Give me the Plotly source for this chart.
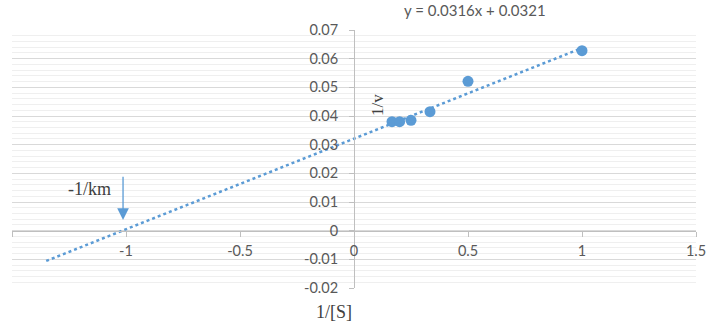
import plotly.graph_objects as go

# Data (Lineweaver-Burk)
inv_s = [1/6, 1/5, 1/4, 1/3, 1/2, 1]
inv_v = [0.0380, 0.0380, 0.0385, 0.0415, 0.0521, 0.0628]
slope = 0.0316
intercept = 0.0321
trend_x = [-1.35, 1.0]
trend_y = [slope * x + intercept for x in trend_x]

x_ticks = [-1.5, -1, -0.5, 0, 0.5, 1, 1.5]
x_tick_labels = ["-1.5", "-1", "-0.5", "0", "0.5", "1", "1.5"]
y_ticks = [-0.02, -0.01, 0, 0.01, 0.02, 0.03, 0.04, 0.05, 0.06, 0.07]
y_tick_labels = ["-0.02", "-0.01", "0", "0.01", "0.02", "0.03", "0.04", "0.05", "0.06", "0.07"]

BLUE = "#5B9BD5"
GRAY = "#595959"

fig = go.Figure()
fig.add_trace(go.Scatter(x=trend_x, y=trend_y, mode="lines",
                         line=dict(color=BLUE, width=2.5, dash="dot"),
                         showlegend=False, hoverinfo="skip"))
fig.add_trace(go.Scatter(x=inv_s, y=inv_v, mode="markers",
                         marker=dict(color=BLUE, size=11),
                         showlegend=False))

fig.update_layout(
    width=708, height=326,
    margin=dict(l=12, r=12, t=30, b=38),
    paper_bgcolor="white", plot_bgcolor="white",
    font=dict(family="Lato, Open Sans, sans-serif", size=14.5, color=GRAY),
    xaxis=dict(range=[-1.5, 1.5], tickvals=x_ticks, ticktext=x_tick_labels,
               showgrid=False, zeroline=False, showline=True,
               linecolor="#BFBFBF", linewidth=1, automargin=False,
               ticks="outside", ticklen=5, tickcolor="#BFBFBF",
               anchor="free", position=2/9, ticklabelstandoff=2),
    yaxis=dict(range=[-0.02, 0.07], tickvals=y_ticks, ticktext=y_tick_labels,
               showgrid=True, gridcolor="#D9D9D9", gridwidth=1, automargin=False,
               zeroline=False, showline=True, linecolor="#BFBFBF", linewidth=1,
               ticks="outside", ticklen=5, tickcolor="#BFBFBF",
               anchor="free", position=0.5, ticklabelstandoff=8,
               minor=dict(dtick=0.002, showgrid=True, gridcolor="#EFEFEF", gridwidth=1)),
)

serif = dict(family="Liberation Serif, Times New Roman, serif", color="#404040")

fig.add_annotation(x=0.677, y=1.079, xref="paper", yref="paper", text="y = 0.0316x + 0.0321",
                   xanchor="center", yanchor="middle",
                   showarrow=False, font=dict(size=15, color=GRAY))
fig.add_annotation(x=0.10, y=0.0438, xref="x", yref="y", text="1/v", textangle=-90,
                   showarrow=False, font=dict(size=17, **serif))
fig.add_annotation(x=0.471, y=-0.093, xref="paper", yref="paper", text="1/[S]",
                   xanchor="center", yanchor="middle",
                   showarrow=False, font=dict(size=18, **serif))
fig.add_annotation(x=-1.162, y=0.0145, xref="x", yref="y", text="-1/km",
                   showarrow=False, font=dict(size=18, **serif))
fig.add_annotation(x=-1.013, y=0.0037, xref="x", yref="y",
                   ax=-1.013, ay=0.0193, axref="x", ayref="y",
                   text="", showarrow=True, arrowhead=2, arrowsize=1.8,
                   arrowwidth=1.3, arrowcolor=BLUE)

fig.write_html("out.html", config={"displayModeBar": False},
               post_script="document.body.style.margin='0';")
